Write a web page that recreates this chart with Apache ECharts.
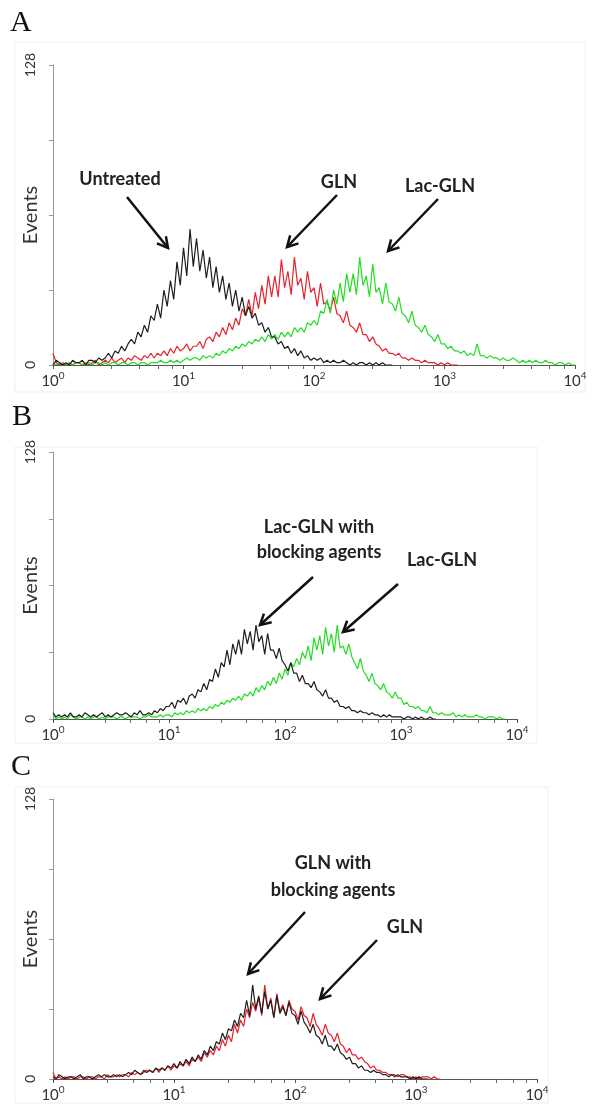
<!DOCTYPE html>
<html>
<head>
<meta charset="utf-8">
<script src="https://cdn.jsdelivr.net/npm/echarts@6/dist/echarts.min.js"></script>
<style>
  html, body { margin: 0; padding: 0; background: #fff; }
  #chart { width: 592px; height: 1106px; }
</style>
</head>
<body>
<div id="chart"></div>
<script>
// histogram bins: 40 channels per decade, 10^0 .. 10^4
const binsPerDecade = 40;
const decadeLabels = ['0', '1', '2', '3', '4'];
const yLabels = [0, 128];

// panel A
const untreatedA = [
  0, 2, 1, 0,  1, 0, 2, 1,  1, 2, 0, 2,  2, 1, 3, 2,  3, 5, 3, 6,
  5, 8, 6, 9,  11, 9, 14, 12,  17, 14, 21, 19,  26, 20, 32, 25,  36, 28, 44, 34,
  50, 38, 58, 42,  54, 40, 49, 37,  46, 33, 42, 31,  38, 28, 35, 25,  32, 23, 29, 21,
  25, 20, 22, 17,  18, 14, 16, 12,  12, 9, 10, 7,  8, 5, 7, 4,  6, 3, 4, 2,
  3, 2, 3, 1,  2, 1, 2, 1,  1, 2, 1, 0,  1, 0, 1, 1,  0, 1, 0, 1,
  0, 1, 0, 0,  0
];
const glnA = [
  5, 1, 0, 1,  0, 1, 0, 1,  1, 0, 1, 0,  1, 2, 0, 1,  2, 1, 3, 1,
  2, 3, 1, 3,  2, 4, 3, 2,  4, 3, 5, 3,  5, 4, 6, 4,  7, 5, 8, 6,
  7, 9, 6, 8,  8, 10, 7, 11,  12, 10, 14, 12,  16, 13, 18, 15,  20, 17, 24, 21,
  28, 21, 31, 24,  34, 26, 38, 29,  38, 29, 45, 33,  40, 30, 46, 34,  37, 28, 40, 31,
  33, 25, 35, 26,  27, 23, 29, 22,  21, 18, 23, 17,  16, 14, 18, 13,  13, 10, 12, 9,
  8, 6, 7, 5,  5, 4, 5, 3,  3, 2, 3, 2,  2, 1, 2, 1,  1, 1, 0, 1,
  0, 1, 0, 0,  0
];
const lacGlnA = [
  1, 0, 1, 0,  0, 1, 0, 1,  1, 0, 0, 1,  0, 1, 1, 0,  1, 0, 1, 1,
  0, 1, 1, 0,  1, 1, 0, 1,  1, 0, 1, 1,  1, 2, 1, 1,  2, 1, 2, 1,
  2, 3, 2, 3,  3, 2, 4, 3,  4, 3, 5, 4,  6, 5, 7, 6,  8, 7, 9, 8,
  10, 9, 11, 10,  12, 10, 13, 11,  13, 11, 14, 12,  14, 12, 16, 14,  16, 14, 18, 17,
  19, 17, 23, 22,  28, 22, 32, 26,  35, 27, 39, 31,  39, 30, 46, 34,  38, 29, 43, 31,
  33, 26, 35, 27,  26, 23, 29, 22,  21, 18, 23, 17,  16, 14, 17, 13,  12, 10, 13, 9,
  9, 7, 8, 6,  6, 5, 6, 4,  5, 4, 9, 4,  4, 3, 4, 3,  3, 2, 3, 2,
  2, 3, 2, 1,  2, 1, 2, 1,  2, 1, 1, 2,  1, 1, 0, 1,  1, 0, 1, 0,
  0
];

// panel B
const blockedB = [
  3, 1, 2, 1,  2, 1, 3, 1,  1, 2, 1, 3,  2, 1, 2, 1,  2, 3, 1, 2,
  1, 2, 3, 2,  2, 3, 2, 1,  3, 2, 4, 2,  2, 3, 2, 4,  3, 5, 4, 6,
  6, 8, 5, 9,  8, 10, 7, 11,  12, 10, 14, 13,  17, 14, 19, 18,  24, 20, 27, 25,
  33, 26, 36, 31,  38, 31, 43, 36,  42, 33, 45, 37,  40, 31, 41, 33,  33, 29, 34, 28,
  26, 23, 27, 22,  22, 18, 21, 17,  17, 15, 18, 14,  13, 11, 14, 10,  10, 8, 9, 6,
  6, 5, 6, 4,  4, 3, 4, 3,  3, 2, 3, 2,  2, 1, 2, 1,  2, 1, 1, 1,
  1, 0, 1, 1,  0, 1, 0, 1,  0, 0, 1, 0,  0
];
const lacGlnB = [
  2, 0, 1, 0,  1, 0, 2, 1,  0, 1, 1, 0,  1, 0, 1, 1,  0, 1, 0, 1,
  1, 1, 0, 1,  1, 0, 1, 1,  1, 1, 0, 1,  1, 2, 1, 1,  1, 2, 1, 2,
  2, 1, 3, 2,  3, 2, 4, 3,  4, 3, 5, 4,  5, 4, 6, 5,  7, 6, 8, 7,
  9, 8, 10, 9,  11, 9, 12, 11,  13, 11, 15, 13,  16, 14, 18, 16,  20, 17, 22, 19,
  24, 21, 27, 25,  29, 26, 32, 29,  35, 28, 39, 33,  40, 31, 44, 35,  41, 32, 45, 34,
  35, 31, 36, 30,  27, 24, 29, 23,  21, 18, 22, 17,  16, 14, 17, 13,  12, 10, 13, 10,
  10, 7, 8, 6,  6, 5, 6, 4,  4, 3, 6, 3,  3, 2, 3, 2,  2, 2, 3, 1,
  2, 1, 2, 1,  1, 1, 2, 1,  1, 0, 1, 1,  1, 0, 1, 0,  0
];

// panel C
const blockedC = [
  1, 0, 2, 1,  0, 1, 1, 0,  1, 2, 0, 1,  1, 0, 1, 2,  1, 2, 1, 1,
  2, 1, 2, 1,  2, 3, 2, 4,  3, 2, 4, 3,  4, 3, 5, 4,  5, 4, 6, 5,
  7, 5, 8, 6,  9, 7, 10, 8,  11, 9, 13, 11,  15, 13, 17, 16,  21, 18, 23, 22,
  27, 24, 30, 28,  36, 29, 43, 32,  38, 30, 40, 32,  36, 28, 38, 30,  33, 29, 35, 30,
  29, 25, 31, 26,  24, 21, 25, 20,  19, 16, 20, 15,  15, 13, 16, 12,  11, 9, 10, 7,
  7, 5, 6, 4,  4, 3, 4, 3,  3, 2, 2, 1,  2, 1, 2, 1,  1, 1, 0, 1,
  0, 1, 0, 0,  0
];
const glnC = [
  3, 0, 1, 0,  1, 0, 1, 1,  0, 1, 1, 0,  1, 1, 0, 1,  1, 0, 2, 1,
  1, 2, 1, 2,  2, 1, 3, 2,  3, 2, 3, 4,  4, 3, 5, 3,  5, 4, 6, 4,
  6, 5, 7, 6,  8, 6, 9, 8,  10, 8, 12, 10,  13, 11, 15, 13,  18, 15, 20, 17,
  25, 21, 27, 24,  32, 28, 35, 31,  37, 29, 43, 32,  37, 28, 39, 31,  34, 29, 36, 32,
  31, 27, 33, 29,  28, 24, 30, 25,  23, 20, 25, 21,  20, 17, 21, 16,  15, 12, 14, 11,
  11, 9, 10, 8,  7, 5, 6, 4,  4, 3, 3, 2,  2, 2, 1, 2,  2, 1, 1, 0,
  1, 0, 1, 1,  1, 0, 1, 0,  0
];

const RED = '#e8202a';
const GREEN = '#22dd22';
const BLACK = '#1e1e1e';
const FONT = 'Lato, "Open Sans", sans-serif';

const toPoints = ys => ys.map((y, i) => [Math.pow(10, i / binsPerDecade), y]);

// plot areas (left, top, width, height)
const grids = [
  { left: 53, top: 65, width: 522, height: 300 },
  { left: 53, top: 452, width: 464, height: 267 },
  { left: 53, top: 799, width: 484, height: 280 }
];

const xAxes = grids.map((g, i) => ({
  type: 'log', logBase: 10, gridIndex: i, min: 1, max: 10000,
  axisLine: { lineStyle: { color: '#555', width: 1 } },
  axisTick: { show: true, length: 4, lineStyle: { color: '#555' } },
  minorTick: { show: true, splitNumber: 5, length: 4, lineStyle: { color: '#666' } },
  splitLine: { show: false },
  axisLabel: {
    margin: 6,
    formatter: v => '{b|10}{s|' + decadeLabels[Math.round(Math.log10(v))] + '}',
    rich: {
      b: { fontSize: 15, fontFamily: FONT, color: '#333', lineHeight: 18, verticalAlign: 'bottom' },
      s: { fontSize: 10, fontFamily: FONT, color: '#333', lineHeight: 18, verticalAlign: 'top' }
    }
  }
}));

const yAxes = grids.map((g, i) => ({
  type: 'value', gridIndex: i, min: 0, max: 128, interval: 32,
  name: 'Events', nameLocation: 'middle', nameRotate: 90, nameGap: 12,
  nameMoveOverlap: false,
  nameTextStyle: { fontSize: 20, fontFamily: FONT, color: '#333' },
  axisLine: { show: true, lineStyle: { color: '#999', width: 1 } },
  axisTick: { show: true, length: 4, lineStyle: { color: '#999' } },
  splitLine: { show: false },
  axisLabel: {
    rotate: 90, margin: 16, fontSize: 14, fontFamily: FONT, color: '#333',
    formatter: v => (yLabels.indexOf(v) >= 0 ? String(v) : '')
  }
}));

const line = (data, color, idx) => ({
  type: 'line', data: toPoints(data), xAxisIndex: idx, yAxisIndex: idx,
  showSymbol: false, symbol: 'none', silent: true,
  lineStyle: { color: color, width: 1.2 }
});

const series = [
  line(glnA, RED, 0),
  line(lacGlnA, GREEN, 0),
  line(untreatedA, BLACK, 0),
  line(lacGlnB, GREEN, 1),
  line(blockedB, BLACK, 1),
  line(glnC, RED, 2),
  line(blockedC, BLACK, 2)
];

// arrow with an open chevron head
function arrow(x1, y1, x2, y2) {
  const a = Math.atan2(y2 - y1, x2 - x1), len = 12, sp = 0.5;
  const h1 = [x2 - len * Math.cos(a - sp), y2 - len * Math.sin(a - sp)];
  const h2 = [x2 - len * Math.cos(a + sp), y2 - len * Math.sin(a + sp)];
  const st = { stroke: '#111', lineWidth: 2.5, fill: null };
  return [
    { type: 'polyline', shape: { points: [[x1, y1], [x2, y2]] }, style: st },
    { type: 'polyline', shape: { points: [h1, [x2, y2], h2] }, style: st }
  ];
}
const label = (t, x, y) => ({
  type: 'text', x: x, y: y,
  style: { text: t, font: 'bold 18px ' + FONT, fill: '#222', align: 'center', verticalAlign: 'middle' }
});
const letter = (t, x, y) => ({
  type: 'text', x: x, y: y,
  style: { text: t, font: '30px "Liberation Serif", serif', fill: '#111', align: 'left', verticalAlign: 'bottom' }
});
const frame = (x, y, w, h) => ({
  type: 'rect', shape: { x: x, y: y, width: w, height: h }, silent: true, z: -1,
  style: { stroke: '#efefef', fill: null, lineWidth: 1 }
});

const graphic = [
  frame(15, 42, 570, 350), frame(15, 447, 522, 296), frame(15, 787, 533, 316),
  letter('A', 10, 38), letter('B', 12, 432), letter('C', 11, 782),
  label('Untreated', 120, 179), label('GLN', 339, 182), label('Lac-GLN', 440, 186),
  ...arrow(127, 197, 168, 248), ...arrow(337, 195, 287, 247), ...arrow(438, 199, 388, 251),
  label('Lac-GLN with', 319, 527), label('blocking agents', 319, 552), label('Lac-GLN', 442, 560),
  ...arrow(313, 577, 260, 625), ...arrow(398, 584, 343, 632),
  label('GLN with', 333, 863), label('blocking agents', 333, 890), label('GLN', 405, 927),
  ...arrow(305, 912, 248, 974), ...arrow(377, 940, 320, 999)
];

const chart = echarts.init(document.getElementById('chart'));
chart.setOption({
  animation: false,
  backgroundColor: '#fff',
  grid: grids,
  xAxis: xAxes,
  yAxis: yAxes,
  series: series,
  graphic: graphic
});
</script>
</body>
</html>
